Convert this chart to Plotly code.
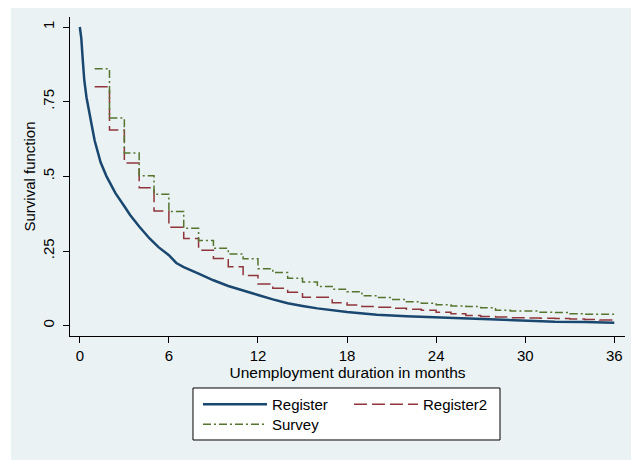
import plotly.graph_objects as go

# Register: Kaplan-Meier curve (months, survival)
reg_months = [0, 0.1, 0.2, 0.3, 0.45, 0.6, 0.8, 1.0, 1.4, 1.8, 2.4, 3.0, 3.4, 4.0, 4.7, 5.3,
              6.0, 6.5, 7.0, 8.0, 9.0, 10, 11, 12, 13, 14, 15, 16, 18, 20, 22, 24, 26, 28,
              30, 32, 34, 36]
reg_surv = [1.0, 0.963, 0.89, 0.823, 0.765, 0.72, 0.672, 0.62, 0.547, 0.50, 0.444, 0.40,
            0.37, 0.332, 0.292, 0.263, 0.236, 0.21, 0.196, 0.174, 0.152, 0.133, 0.117, 0.103,
            0.088, 0.075, 0.066, 0.058, 0.046, 0.037, 0.032, 0.028, 0.024, 0.019, 0.017,
            0.013, 0.012, 0.010]

# Register2 and Survey: monthly step functions
step_months = list(range(1, 37))
reg2_surv = [0.80, 0.655, 0.545, 0.462, 0.384, 0.33, 0.292, 0.253, 0.225, 0.197, 0.168,
             0.140, 0.125, 0.112, 0.095, 0.095, 0.077, 0.069, 0.064, 0.062, 0.058, 0.055,
             0.052, 0.045, 0.040, 0.034, 0.031, 0.029, 0.027, 0.026, 0.025, 0.024, 0.022,
             0.021, 0.019, 0.018]
survey_surv = [0.860, 0.695, 0.578, 0.502, 0.440, 0.382, 0.326, 0.285, 0.259, 0.240, 0.224,
               0.191, 0.178, 0.159, 0.146, 0.131, 0.122, 0.114, 0.100, 0.094, 0.088, 0.080,
               0.075, 0.070, 0.066, 0.064, 0.060, 0.052, 0.049, 0.049, 0.045, 0.044, 0.040,
               0.038, 0.038, 0.038]

x_ticks = [0, 6, 12, 18, 24, 30, 36]
y_ticks = [0, 0.25, 0.5, 0.75, 1]
y_ticktext = ["0", ".25", ".5", ".75", "1"]

BG = "#eaf2f3"
FONT = "Liberation Sans, Arial, sans-serif"

fig = go.Figure()
fig.add_trace(go.Scatter(x=reg_months, y=reg_surv, mode="lines", name="Register",
                         line=dict(color="#1a476f", width=2.5)))
fig.add_trace(go.Scatter(x=step_months, y=reg2_surv, mode="lines", name="Register2",
                         line=dict(color="#90353b", width=1.5, dash="13px,5px", shape="hv")))
fig.add_trace(go.Scatter(x=step_months, y=survey_surv, mode="lines", name="Survey",
                         legend="legend2",
                         line=dict(color="#55752f", width=1.5, dash="8px,3px,2px,3px", shape="hv")))

# graph region background (thin white edge at left and top)
fig.add_shape(type="rect", xref="paper", yref="paper", x0=-0.1063, x1=1.1, y0=-0.5, y1=1.0376,
              fillcolor=BG, line_width=0, layer="below")
# frame around the two legend rows
fig.add_shape(type="rect", xref="paper", yref="paper", x0=0.2216, x1=0.7748, y0=-0.326, y1=-0.163,
              fillcolor="white", line=dict(color="black", width=1), layer="above")

legend_common = dict(orientation="h", xanchor="left", yanchor="top", x=0.2306,
                     bgcolor="rgba(0,0,0,0)", borderwidth=0,
                     itemwidth=64, entrywidth=72, font=dict(size=15), traceorder="normal")

# page body adds an 8px offset, so the figure is 8px smaller than the window
fig.update_layout(
    width=631, height=452,
    margin=dict(l=62, r=14, t=9, b=124),
    paper_bgcolor="white",
    plot_bgcolor="white",
    font=dict(family=FONT, size=15, color="black"),
    showlegend=True,
    legend=dict(y=-0.163, **legend_common),
    legend2=dict(y=-0.2257, **legend_common),
)
fig.update_xaxes(range=[-0.66, 36.72], tickvals=x_ticks, ticks="outside", ticklen=6,
                 tickcolor="black", showline=True, linecolor="black", linewidth=1,
                 showgrid=True, gridcolor=BG, gridwidth=1.5, zeroline=False,
                 automargin=False, tickfont=dict(size=15),
                 title=dict(text="Unemployment duration in months", standoff=0,
                            font=dict(size=15.5)))
fig.update_yaxes(range=[-0.0345, 1.0335], tickvals=y_ticks, ticktext=y_ticktext,
                 tickangle=-90, ticks="outside", ticklen=6, tickcolor="black",
                 ticklabelstandoff=3,
                 showline=True, linecolor="black", linewidth=1,
                 showgrid=True, gridcolor=BG, gridwidth=1.5, zeroline=False,
                 automargin=False, tickfont=dict(size=15),
                 title=dict(text="Survival function", standoff=0, font=dict(size=15)))

fig.write_html("out.html")
